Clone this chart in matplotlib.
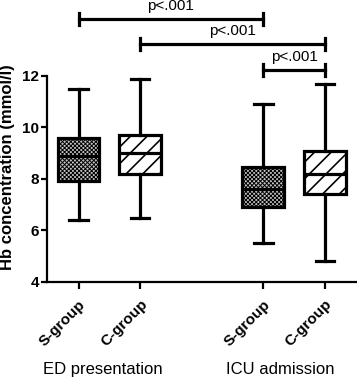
import matplotlib
matplotlib.use('Agg')
from matplotlib import pyplot as plt

plt.rcParams['font.family'] = ['Liberation Sans', 'DejaVu Sans']

# box plot values (mmol/l)
grupos = ['S-group', 'C-group', 'S-group', 'C-group']
momentos = ['ED presentation', 'ICU admission']
minimo = [6.4, 6.5, 5.5, 4.8]
q1 = [7.92, 8.2, 6.9, 7.4]
mediana = [8.9, 9.0, 7.6, 8.2]
q3 = [9.6, 9.7, 8.45, 9.1]
maximo = [11.5, 11.9, 10.9, 11.7]
posicoes = [1, 2, 4, 5]

# comparacoes: (box a, box b, texto)
comparacoes = [(1, 4, 'p<.001'), (2, 5, 'p<.001'), (4, 5, 'p<.001')]
altura_barra = [14.21, 13.24, 12.23]

fig = plt.figure(figsize=(3.57, 3.77), dpi=100)
ax = fig.add_axes([0.132, 0.252, 0.868, 0.748])

lw = 2.3
props = dict(boxprops=dict(linewidth=lw, edgecolor='black'),
             medianprops=dict(linewidth=lw, color='black'),
             whiskerprops=dict(linewidth=lw, color='black'),
             capprops=dict(linewidth=lw, color='black'))

# desenha cada caixa separada (hatch diferente por grupo)
for i in range(len(grupos)):
    st = [{'whislo': minimo[i], 'q1': q1[i], 'med': mediana[i],
           'q3': q3[i], 'whishi': maximo[i], 'fliers': []}]
    if grupos[i] == 'S-group':
        hl, face, hatch = 0.7, '#c4c4c4', 'xxxxxxxx'
    else:
        hl, face, hatch = 1.2, 'white', '//'
    with plt.rc_context({'hatch.linewidth': hl}):
        bp = ax.bxp(st, positions=[posicoes[i]], widths=0.68, patch_artist=True,
                    showfliers=False, capwidths=0.3, manage_ticks=False, **props)
    bp['boxes'][0].set_facecolor(face)
    bp['boxes'][0].set_hatch(hatch)
    bp['medians'][0].set_zorder(3)

# barras de significancia
for (a, b, txt), h in zip(comparacoes, altura_barra):
    ax.plot([a, b], [h, h], color='black', lw=lw, clip_on=False)
    ax.plot([a, a], [h - 0.25, h + 0.25], color='black', lw=lw, clip_on=False)
    ax.plot([b, b], [h - 0.25, h + 0.25], color='black', lw=lw, clip_on=False)
    ax.text((a + b) / 2, h + 0.36, txt, ha='center', va='baseline', fontsize=11)

ax.set_xlim(0.49, 5.52)
ax.set_ylim(4, 14.95)
ax.set_yticks([4, 6, 8, 10, 12])
ax.spines['left'].set_bounds(4, 12)
ax.spines['top'].set_visible(False)
ax.spines['right'].set_visible(False)
ax.spines['left'].set_linewidth(1.6)
ax.spines['bottom'].set_linewidth(1.6)
ax.tick_params(axis='y', width=1.6, length=4, labelsize=11, pad=2)
ax.tick_params(axis='x', width=1.6, length=5, pad=6)
for t in ax.get_yticklabels():
    t.set_fontweight('bold')

ax.set_xticks(posicoes)
ax.set_xticklabels(grupos, rotation=45, ha='right', rotation_mode='anchor',
                   fontweight='bold', fontsize=11)

ax.set_ylabel('Hb concentration (mmol/l)', fontweight='bold', fontsize=12)
ax.yaxis.set_label_coords(-0.103, 0.408)

# rotulos dos momentos
for x, nome in zip([1.39, 4.28], momentos):
    ax.text(x, -0.31, nome, ha='center', va='center', fontsize=12,
            transform=ax.get_xaxis_transform())

fig.savefig('out.png', dpi=100)
